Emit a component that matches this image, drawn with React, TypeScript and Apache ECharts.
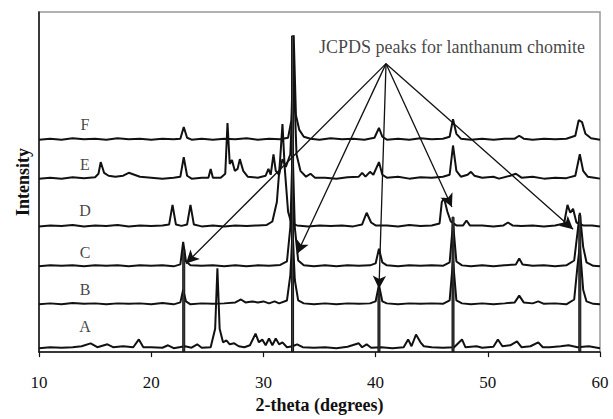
import React, { useEffect, useRef } from "react";
import * as echarts from "echarts";

// Trace names (bottom to top) and vertical offsets of their baselines
const TRACE_NAMES = ["A", "B", "C", "D", "E", "F"];
const OFFSETS = [4, 49, 88, 129, 178, 218];

// [2-theta, intensity above own baseline]
const A_PTS = [[10,0],[11,1],[12,0.5],[13,1],[13.8,2],[14.6,5],[15.2,1],[16.1,4],[16.6,1],[17.5,2],[18.4,1],[18.9,9],[19.3,1],[20,1],[21,0.5],[21.5,3],[22,0],[22.5,1],[23,2],[23.6,0.5],[24.1,4],[24.5,0.5],[25.3,1],[25.7,20],[25.9,82],[26.1,20],[26.4,6],[26.7,8],[27,4],[27.4,5],[27.8,2],[28.3,1],[28.8,3],[29.3,15],[29.6,6],[29.9,9],[30.2,3],[30.5,10],[30.8,3],[31.1,10],[31.4,4],[31.7,6],[32.1,1],[32.6,2],[33,4],[33.5,1],[34.5,0.5],[35.5,1],[36.5,0],[37.5,1.5],[38.5,5],[38.8,1],[39.2,4],[39.6,0.5],[40.5,1],[41.5,0],[42.5,1],[42.9,9],[43.2,2],[43.6,14],[44.0,6],[44.3,2],[45,1],[46,0.5],[47,1],[47.7,9],[48.0,1],[49,2],[49.5,0.5],[50.5,1.5],[50.9,9],[51.3,2],[52,3],[52.6,7],[53,1],[53.8,2],[54.5,6],[54.9,1],[55.5,1],[56.5,2],[57.2,3],[58,1],[59,2],[60,0]];
const B_PTS = [[10,0],[11,1],[12,0],[13,1.5],[14,0.5],[15,1],[16,0],[17,1],[18,0.5],[19,1],[20,0],[21,1.5],[22,0],[22.6,2],[22.85,15],[23.1,3],[23.5,0],[24.5,1],[25.5,0.5],[26.5,1],[27.5,2],[28.0,5],[28.4,2],[29,3],[29.5,2],[30,3],[30.5,1],[31.0,3],[31.4,1],[32.1,4],[32.4,30],[32.6,75],[32.8,25],[33.1,4],[33.6,1],[34.5,0],[35.5,1],[36.5,0],[37.5,1],[38.5,0.5],[39.5,1],[40.0,3],[40.3,20],[40.6,3],[41,1],[42,0],[43,1],[44,0.5],[45,1],[46,0.5],[46.6,4],[46.9,45],[47.2,4],[47.7,1],[48.5,0],[49.5,1],[50.5,0],[51.5,1],[52.4,2],[52.8,9],[53.2,2],[54,1],[54.5,3],[55,0.5],[56,1],[57,0],[57.7,5],[58.0,40],[58.2,60],[58.5,15],[58.8,3],[59.4,0.5],[60,0]];
const C_PTS = [[10,0],[11,1],[12,0.5],[13,1],[14,0],[15,1],[16,0.5],[17,1],[18,0],[19,1],[20,0.5],[21,1],[22,0],[22.6,2],[22.85,25],[23.1,5],[23.5,1],[24.5,0.5],[25.5,1],[26.5,0],[27.5,1],[28.5,0],[29.5,1],[30.5,0.5],[31.5,1.5],[32.1,5],[32.4,40],[32.6,120],[32.8,40],[33.1,6],[33.6,1],[34.5,0],[35.5,1],[36.5,0],[37.5,1],[38.5,0.5],[39.5,1],[40.0,3],[40.3,18],[40.6,4],[41,1],[42,0],[43,1],[44,0.5],[45,1],[46,0.5],[46.6,4],[46.9,45],[47.2,5],[47.7,1],[48.5,0],[49.5,1],[50.5,0],[51.5,1],[52.5,2],[52.8,8],[53.1,2],[54,0.5],[55,1],[56,0],[57,1],[57.7,6],[58.0,35],[58.2,55],[58.5,20],[58.8,4],[59.4,0.5],[60,0]];
const D_PTS = [[10,0],[11,1],[12,0.5],[13,1.5],[14,0],[15,1],[16,0.5],[17,1.5],[18,0],[19,1],[20,0.5],[21,1],[21.6,2],[21.9,22],[22.2,2],[22.7,0.5],[23.2,2],[23.5,22],[23.8,2],[24.5,0],[25.5,1],[26.5,0],[27.5,1],[28.5,0.5],[29.5,1],[30.3,1.5],[30.8,5],[31.2,25],[31.5,70],[31.7,105],[31.9,60],[32.2,15],[32.5,3],[33,1],[34,0],[35,1],[36,0.5],[37,1],[38,0],[38.8,2],[39.2,14],[39.6,4],[40.0,1],[41,1],[42,0],[43,1.5],[44,0.5],[45,1],[45.7,3],[45.9,25],[46.1,29],[46.4,15],[46.7,5],[47.2,1],[47.8,1],[48.1,6],[48.4,1],[49.5,1],[50.5,0],[51.4,1],[51.8,4],[52.2,1],[53,0.5],[54,1],[55,0],[56,1],[56.8,3],[57.1,22],[57.35,14],[57.6,18],[57.9,4],[58.5,1],[59.3,1],[60,0]];
const E_PTS = [[10,0],[11,1],[12,0],[13,1.5],[14,0.5],[15,1.5],[15.3,5],[15.5,17],[15.8,6],[16.2,3],[16.8,2],[17.5,3],[18.0,6],[18.5,4],[19.0,2],[20,1],[21,0],[22,1],[22.6,2],[22.9,22],[23.2,3],[23.6,0],[24.5,1],[25.1,1],[25.3,10],[25.5,1],[26.2,1],[26.6,5],[26.8,57],[27.0,15],[27.2,19],[27.45,8],[27.7,10],[27.9,20],[28.2,8],[28.6,2],[29.5,1],[30.2,3],[30.45,10],[30.65,4],[30.9,25],[31.1,8],[31.4,4],[31.7,20],[32.0,12],[32.4,25],[32.7,110],[32.95,25],[33.3,8],[33.8,2],[34.2,5],[34.6,1],[35.5,1],[36.5,0],[37.5,1.5],[38.5,2],[38.8,6],[39.1,2],[39.5,7],[39.8,4],[40.3,17],[40.6,4],[41,1],[42,2],[43,0],[44,1.5],[45,1],[46,2],[46.6,4],[46.9,34],[47.2,8],[47.6,2],[48.2,4],[48.5,7],[48.8,3],[49.5,1],[50.5,2],[51,0],[52,3],[52.5,5],[53,1],[54,2],[55,0],[56,1],[57,0.5],[57.8,3],[58.2,25],[58.5,8],[58.9,2],[59.5,1],[60,0]];
const F_PTS = [[10,0],[11,1],[12,0],[13,1.5],[14,0.5],[15,1],[16,0],[17,1.5],[18,0.5],[19,1],[20,0],[21,1],[22,0.5],[22.6,1],[22.9,13],[23.2,2],[23.6,0],[24.5,1],[25.5,0],[26.5,1],[27.5,0.5],[28.5,1.5],[29.5,0],[30.5,1],[31.5,0.5],[32.2,2],[32.5,20],[32.7,107],[32.9,25],[33.2,10],[33.6,3],[34.2,1],[35,0],[36,1.5],[37,0.5],[38,1],[39,0],[39.9,2],[40.3,12],[40.6,3],[41,0],[42,1],[43,0],[44,1.5],[45,0.5],[46,1],[46.6,3],[46.9,21],[47.2,6],[47.6,1],[48.5,0],[49.5,1],[50.5,0],[51.5,1],[52.4,1],[52.8,4],[53.2,1],[54,0],[55,1],[56,0.5],[57,1],[57.8,4],[58.1,20],[58.4,18],[58.7,6],[59.2,1.5],[60,0]];
const TRACES = [A_PTS, B_PTS, C_PTS, D_PTS, E_PTS, F_PTS];

// JCPDS reference sticks for lanthanum chromite
const JCPDS_POS = [22.9, 32.6, 40.3, 46.9, 58.2];
const JCPDS_H = [106, 325, 63, 139, 141];

// Annotation arrows: common apex and tips (data coords)
const APEX = [40.93, 296];
const ARROW_TIPS = [[23.1, 91], [33.0, 101], [40.3, 65], [46.8, 149], [57.6, 126]];

// Text labels
const LETTER_X = 14.1;
const LETTER_Y = [26, 64, 102, 145, 193, 234];
const NOTE = "JCPDS peaks for lanthanum chomite";
const NOTE_POS = [46.8, 313];

const FONT = "'Liberation Serif', 'Times New Roman', serif";

export default function App() {
  const ref = useRef<HTMLDivElement>(null);
  useEffect(() => {
    if (!ref.current) return;
    const chart = echarts.init(ref.current, undefined, { renderer: "svg" });

    const lineSeries = TRACES.map((pts, i) => ({
      type: "line",
      name: TRACE_NAMES[i],
      data: pts.map((p) => [p[0], p[1] + OFFSETS[i]]),
      showSymbol: false,
      symbol: "none",
      lineStyle: { color: "#111", width: 2 },
      z: 2,
    }));

    chart.setOption({
      animation: false,
      backgroundColor: "#fff",
      grid: {
        left: 39,
        right: 13,
        top: 12,
        bottom: 58,
        show: true,
        borderColor: "#999",
        borderWidth: 1.5,
      },
      xAxis: {
        type: "value",
        min: 10,
        max: 60,
        interval: 10,
        name: "2-theta (degrees)",
        nameLocation: "middle",
        nameGap: 41,
        nameTextStyle: { fontFamily: FONT, fontSize: 18, fontWeight: "bold", color: "#111" },
        axisLine: { lineStyle: { color: "#111", width: 1.5 } },
        axisTick: { show: true, inside: false, length: 5, lineStyle: { color: "#111", width: 1.2 } },
        axisLabel: { fontFamily: FONT, fontSize: 17, color: "#111", margin: 22 },
        splitLine: { show: false },
      },
      yAxis: {
        type: "value",
        min: 0,
        max: 349,
        name: "Intensity",
        nameLocation: "middle",
        nameGap: 7,
        nameTextStyle: { fontFamily: FONT, fontSize: 18, fontWeight: "bold", color: "#111" },
        axisLine: { show: true, lineStyle: { color: "#111", width: 1.5 } },
        axisTick: { show: false },
        axisLabel: { show: false },
        splitLine: { show: false },
      },
      series: [
        ...lineSeries,
        {
          type: "bar",
          name: "JCPDS",
          data: JCPDS_POS.map((x, i) => [x, JCPDS_H[i]]),
          barWidth: 3,
          itemStyle: { color: "#444", borderColor: "#111", borderWidth: 1 },
          z: 3,
          markLine: {
            silent: true,
            symbol: ["none", "arrow"],
            symbolSize: [10, 13],
            label: { show: false },
            lineStyle: { color: "#111", width: 1.3, type: "solid" },
            data: ARROW_TIPS.map((t) => [
              { coord: APEX },
              { coord: t },
            ]),
            z: 5,
          },
        },
        {
          type: "scatter",
          name: "labels",
          symbolSize: 1,
          itemStyle: { color: "rgba(0,0,0,0)" },
          data: [
            ...TRACE_NAMES.map((n, i) => ({ name: n, value: [LETTER_X, LETTER_Y[i]] })),
            { name: NOTE, value: NOTE_POS, label: { fontSize: 18 } },
          ],
          label: {
            show: true,
            position: "inside",
            formatter: "{b}",
            fontFamily: FONT,
            fontSize: 16,
            color: "#111",
          },
          z: 6,
        },
      ],
    });
    return () => chart.dispose();
  }, []);
  return (
    <div
      ref={ref}
      style={{ position: "fixed", left: 0, top: 0, width: 613, height: 419, background: "#fff" }}
    />
  );
}
